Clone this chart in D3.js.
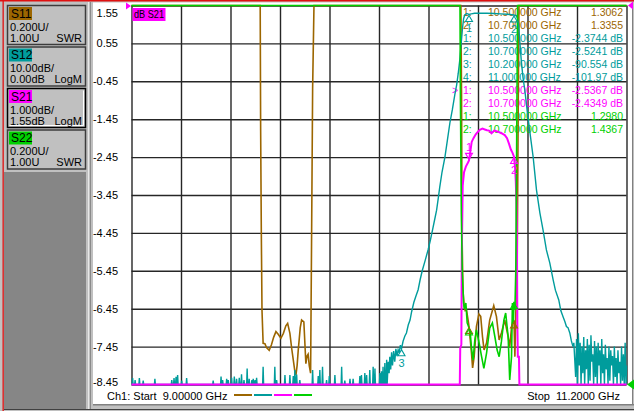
<!DOCTYPE html>
<html lang="en">
<head>
    <meta charset="UTF-8">
    <title>VNA sweep S11 S12 S21 S22</title>
    <script src="https://d3js.org/d3.v7.min.js"></script>
    <style>
        body { margin: 0; background: #c0c0c0; }
        svg { display: block; font-family: "Liberation Sans", Arial, sans-serif; }
        text { white-space: pre; }
    </style>
</head>
<body>
<svg width="634" height="411"></svg>
<script>
// sweep and graticule
var startGHz = 9.0, stopGHz = 11.2;
var gridGHz = [9.00, 9.22, 9.44, 9.66, 9.88, 10.10, 10.32, 10.54, 10.76, 10.98, 11.20];
var s21Ticks = [1.55, 0.55, -0.45, -1.45, -2.45, -3.45, -4.45, -5.45, -6.45, -7.45, -8.45];

// channel panels on the left
var paramNames = ["S11", "S12", "S21", "S22"];
var paramColors = ["#9c6600", "#009c9c", "#ff00ff", "#00d000"];
var scaleLabels = ["0.200U/", "10.00dB/", "1.000dB/", "0.200U/"];
var refLabels = ["1.00U", "0.00dB", "1.55dB", "1.00U"];
var formatLabels = ["SWR", "LogM", "LogM", "SWR"];

// marker table
var markerParam = [0, 0, 1, 1, 1, 1, 2, 2, 3, 3];
var markerNum = [1, 2, 1, 2, 3, 4, 1, 2, 1, 2];
var markerGHz = [10.5, 10.7, 10.5, 10.7, 10.2, 11.0, 10.5, 10.7, 10.5, 10.7];
var markerVal = [1.3062, 1.3355, -2.3744, -2.5241, -90.554, -101.97, -2.5367, -2.4349, 1.2980, 1.4367];

// S11 (SWR) - off scale (>3) except two bands
var s11Trace = [[9.0, 3.5], [9.572, 3.5], [9.574, 2.34], [9.577, 1.80], [9.580, 1.39], [9.585, 1.217],
    [9.593, 1.215], [9.600, 1.195], [9.612, 1.18], [9.622, 1.21], [9.632, 1.25], [9.642, 1.279],
    [9.652, 1.265], [9.664, 1.244], [9.675, 1.27], [9.686, 1.31], [9.694, 1.323], [9.704, 1.27],
    [9.712, 1.19], [9.719, 1.13], [9.726, 1.07], [9.731, 1.05], [9.736, 1.10], [9.741, 1.18],
    [9.750, 1.30], [9.756, 1.34], [9.766, 1.33], [9.775, 1.11], [9.780, 1.15], [9.785, 1.16],
    [9.790, 1.10], [9.796, 1.06], [9.800, 1.71], [9.805, 2.56], [9.811, 3.5],
    [10.464, 3.5], [10.467, 2.5], [10.469, 1.8], [10.473, 1.5], [10.478, 1.42], [10.483, 1.39],
    [10.489, 1.393], [10.496, 1.34], [10.500, 1.306], [10.511, 1.166], [10.516, 1.087], [10.523, 1.147],
    [10.533, 1.305], [10.544, 1.372], [10.552, 1.36], [10.560, 1.252], [10.567, 1.182], [10.578, 1.219],
    [10.592, 1.34], [10.610, 1.416], [10.622, 1.358], [10.634, 1.235], [10.644, 1.272], [10.659, 1.34],
    [10.674, 1.252], [10.681, 1.199], [10.689, 1.30], [10.696, 1.34], [10.700, 1.336], [10.704, 1.147],
    [10.708, 1.377], [10.714, 1.60], [10.719, 2.5], [10.722, 3.5], [11.2, 3.5]];

// S12 (dB) - noise floor spikes, then skirt / passband / skirt, then noisy tail
var s12Floor = -101;
var s12Spikes = [[9.005, -98.3], [9.016, -98.8], [9.035, -98.3], [9.052, -99], [9.104, -98.5],
    [9.179, -98.8], [9.189, -98.3], [9.198, -98.0], [9.205, -97.5], [9.223, -99], [9.245, -98.3],
    [9.363, -99], [9.398, -97.9], [9.405, -98.8], [9.423, -98.5], [9.430, -98.8], [9.445, -98.2],
    [9.457, -97.9], [9.467, -98.5], [9.479, -98.2], [9.489, -97.3], [9.500, -98.8], [9.514, -95.8],
    [9.523, -98.5], [9.535, -98.8], [9.541, -98.5], [9.549, -98.8], [9.556, -98.2], [9.585, -95.3],
    [9.637, -95.3], [9.645, -98.8], [9.682, -97.5], [9.704, -97.5], [9.719, -97.8], [9.726, -96.2],
    [9.734, -97.4], [9.748, -98.8], [9.805, -96.2], [9.830, -97.8], [9.837, -96.2], [9.849, -95.3],
    [9.867, -98.8], [9.879, -97.8], [9.904, -97.5], [9.934, -95.3], [9.948, -99], [9.971, -98.5],
    [9.985, -98.5], [10.015, -97.8], [10.022, -97.5], [10.037, -97], [10.045, -97.5], [10.059, -96.2],
    [10.074, -95.3], [10.082, -95.8], [10.104, -97], [10.111, -96.5], [10.118, -95.3], [10.126, -94.3],
    [10.134, -93.5]];
var s12Body = [[10.141, -94], [10.145, -97], [10.148, -92.7], [10.152, -96], [10.156, -91.5],
    [10.160, -95], [10.165, -91.2], [10.170, -94], [10.175, -90.6], [10.180, -92.5], [10.185, -90.8],
    [10.190, -91.6], [10.195, -89.6], [10.200, -90.55], [10.207, -88.6], [10.215, -87.2], [10.222, -86.4],
    [10.230, -84.3], [10.238, -83], [10.245, -80.8], [10.255, -78.3], [10.265, -76.5], [10.274, -75],
    [10.283, -72.3], [10.293, -69.8], [10.305, -67.3], [10.318, -64.5], [10.328, -62], [10.338, -59.2],
    [10.347, -56.6], [10.356, -54], [10.363, -51], [10.370, -47.9], [10.380, -44], [10.393, -40],
    [10.404, -35.5], [10.415, -31], [10.426, -27.5], [10.437, -23.5], [10.445, -21], [10.452, -18],
    [10.459, -14.4], [10.466, -9.5], [10.471, -6], [10.476, -3.5], [10.481, -2.5], [10.490, -2.1],
    [10.500, -2.37], [10.510, -2.2], [10.525, -2.05], [10.550, -2.0], [10.580, -2.05], [10.610, -2.1],
    [10.640, -2.2], [10.670, -2.3], [10.700, -2.52], [10.710, -2.7], [10.716, -3.4], [10.721, -5.5],
    [10.727, -10.5], [10.733, -15], [10.740, -19], [10.748, -22.3], [10.760, -28.5], [10.771, -33.6],
    [10.785, -39.9], [10.800, -48.7], [10.815, -54.7], [10.829, -59.2], [10.844, -64.5], [10.859, -67.9],
    [10.874, -72.4], [10.884, -75.1], [10.899, -77.7], [10.908, -80.5], [10.918, -82.1], [10.926, -83.4],
    [10.933, -84.7], [10.940, -85], [10.948, -86.4], [10.955, -88.5], [10.962, -90], [10.966, -89]];
var s12Tail = [[10.970, -93.5], [10.974, -98], [10.978, -88], [10.982, -100], [10.986, -86.5],
    [10.990, -95], [10.994, -89], [10.998, -101], [11.002, -90], [11.006, -97], [11.010, -87.5],
    [11.014, -100], [11.018, -91], [11.022, -96], [11.026, -88], [11.030, -101], [11.034, -89.5],
    [11.038, -99], [11.042, -87], [11.046, -94], [11.050, -92], [11.054, -101], [11.058, -88.5],
    [11.062, -98], [11.066, -90], [11.070, -100], [11.074, -89], [11.078, -95], [11.082, -91],
    [11.086, -101], [11.090, -88], [11.094, -97], [11.098, -92], [11.102, -100], [11.106, -89.5],
    [11.110, -96], [11.114, -93], [11.118, -101], [11.122, -90], [11.126, -99], [11.130, -91],
    [11.134, -95], [11.138, -92.5], [11.142, -101], [11.146, -90], [11.150, -98], [11.154, -93],
    [11.158, -100], [11.162, -91], [11.166, -97], [11.170, -94], [11.174, -101], [11.178, -90],
    [11.182, -99], [11.186, -92], [11.190, -100], [11.194, -89], [11.198, -101], [11.200, -95]];

// S21 (dB) - below scale outside the passband
var s21Trace = [[9.0, -9.5], [10.459, -9.5], [10.461, -7.5], [10.466, -7.4], [10.468, -5.0],
    [10.472, -3.2], [10.478, -2.85], [10.486, -2.7], [10.495, -2.6], [10.500, -2.54], [10.506, -2.3],
    [10.512, -2.05], [10.520, -1.95], [10.530, -1.85], [10.540, -1.78], [10.548, -1.73], [10.560, -1.70],
    [10.570, -1.72], [10.580, -1.74], [10.589, -1.75], [10.600, -1.82], [10.612, -1.75], [10.629, -1.78],
    [10.644, -1.82], [10.659, -1.87], [10.669, -1.95], [10.678, -2.1], [10.686, -2.25], [10.693, -2.33],
    [10.700, -2.44], [10.705, -2.75], [10.708, -3.1], [10.711, -3.7], [10.713, -4.6], [10.715, -6.9],
    [10.717, -7.72], [10.722, -7.72], [10.724, -9.5], [11.2, -9.5]];

// S22 (SWR)
var s22Trace = [[9.0, 3.5], [10.460, 3.5], [10.462, 2.5], [10.466, 1.9], [10.470, 1.6], [10.476, 1.43],
    [10.479, 1.40], [10.486, 1.43], [10.492, 1.325], [10.500, 1.30], [10.505, 1.28], [10.511, 1.193],
    [10.518, 1.129], [10.526, 1.235], [10.533, 1.288], [10.545, 1.219], [10.556, 1.147], [10.566, 1.085],
    [10.578, 1.166], [10.592, 1.298], [10.604, 1.325], [10.615, 1.252], [10.625, 1.182], [10.634, 1.147],
    [10.644, 1.226], [10.655, 1.34], [10.663, 1.377], [10.674, 1.252], [10.681, 1.024], [10.689, 1.147],
    [10.693, 1.43], [10.697, 1.32], [10.700, 1.437], [10.704, 1.393], [10.708, 1.604], [10.712, 2.3],
    [10.716, 3.5], [11.2, 3.5]];

var svg = d3.select("svg");
var plotTop = 5.5, plotBottom = 384.5, plotLeft = 131.5, plotRight = 626.5;
// plain hyphen for negative numbers, like the instrument screen
var hyphen = function(s) { return s.replace("\u2212", "-"); };

// window chrome
svg.append("rect").attr("x", 0).attr("y", 0).attr("width", 634).attr("height", 411).attr("fill", "#c0c0c0");
svg.append("rect").attr("x", 93).attr("y", 2.5).attr("width", 539).attr("height", 401.5).attr("fill", "#fff");
svg.append("rect").attr("x", 93).attr("y", 404).attr("width", 541).attr("height", 1.5).attr("fill", "#808080");
svg.append("line").attr("x1", 4).attr("x2", 634).attr("y1", 409.5).attr("y2", 409.5).attr("stroke", "#404040");
svg.append("line").attr("x1", 632.5).attr("x2", 632.5).attr("y1", 2).attr("y2", 405).attr("stroke", "#808080");
svg.append("line").attr("x1", 88.5).attr("x2", 88.5).attr("y1", 2).attr("y2", 409).attr("stroke", "#e8e8e8");
svg.append("line").attr("x1", 90.5).attr("x2", 90.5).attr("y1", 2).attr("y2", 409).attr("stroke", "#8a8a8a");
svg.append("rect").attr("x", 4).attr("y", 172).attr("width", 82).attr("height", 237).attr("fill", "#868686");
svg.append("rect").attr("x", 0).attr("y", 0).attr("width", 634).attr("height", 1.5).attr("fill", "#e01010");
svg.append("rect").attr("x", 2.5).attr("y", 0).attr("width", 1.3).attr("height", 411).attr("fill", "#e01010");

// channel panels
var panels = svg.append("g").selectAll("g").data(paramNames).enter().append("g")
    .attr("transform", function(d, i) { return "translate(7," + (5 + i * 41.5) + ")"; });
panels.append("rect").attr("x", 0.5).attr("y", 0.5).attr("width", 78).attr("height", 39)
    .attr("fill", "#c0c0c0").attr("stroke", function(d, i) { return i === 2 ? "#000" : "#3c3c3c"; })
    .attr("stroke-width", 1.5);
panels.filter(function(d, i) { return i === 2; }).append("path")
    .attr("d", "M76.5,2.5 V37.5 H2.5").attr("fill", "none").attr("stroke", "#fff");
panels.append("rect").attr("x", 2).attr("y", 2).attr("width", 23).attr("height", 13)
    .attr("fill", function(d, i) { return paramColors[i]; });
panels.append("text").attr("x", 4).attr("y", 8.5).attr("dy", "0.35em").attr("font-size", 12)
    .text(function(d) { return d; });
panels.append("text").attr("x", 3).attr("y", 21.8).attr("dy", "0.35em").attr("font-size", 11)
    .text(function(d, i) { return scaleLabels[i]; });
panels.append("text").attr("x", 3).attr("y", 32.8).attr("dy", "0.35em").attr("font-size", 11)
    .text(function(d, i) { return refLabels[i]; });
panels.append("text").attr("x", 75).attr("y", 32.8).attr("dy", "0.35em").attr("font-size", 11)
    .attr("text-anchor", "end").text(function(d, i) { return formatLabels[i]; });

// scales
var x = d3.scaleLinear().domain([startGHz, stopGHz]).range([plotLeft, plotRight]);
var yS21 = d3.scaleLinear().domain([-8.45, 1.55]).range([plotBottom, plotTop]).clamp(true);
var yS12 = d3.scaleLinear().domain([-100, 0]).range([plotBottom, plotTop]).clamp(true);
var ySwr = d3.scaleLinear().domain([1, 3]).range([plotBottom, plotTop]).clamp(true);
var yScales = [ySwr, yS12, yS21, ySwr];

// graticule
var grid = svg.append("g");
grid.append("g").attr("transform", "translate(" + plotLeft + ",0)")
    .call(d3.axisLeft(yS21).tickValues(s21Ticks).tickSize(-(plotRight - plotLeft)).tickFormat(""))
    .call(function(g) { g.select(".domain").remove(); });
grid.append("g").attr("transform", "translate(0," + plotBottom + ")")
    .call(d3.axisBottom(x).tickValues(gridGHz).tickSize(-(plotBottom - plotTop)).tickFormat(""))
    .call(function(g) { g.select(".domain").remove(); });
grid.selectAll(".tick line").attr("stroke", "#262626").attr("stroke-width", 1.4);

// y labels (S21 is the active trace)
svg.append("g").attr("transform", "translate(" + plotLeft + ",0)")
    .call(d3.axisLeft(yS21).tickValues(s21Ticks).tickSize(0).tickPadding(13.5)
        .tickFormat(function(d) { return d.toFixed(2); }))
    .call(function(g) { g.select(".domain").remove(); })
    .call(function(g) {
        g.selectAll("text").attr("font-size", 11).attr("fill", "#000")
            .attr("font-family", "\"Liberation Sans\", Arial, sans-serif")
            .attr("y", function(d) { return d === 1.55 ? 7.5 : (d === -8.45 ? -3 : 0); });
    });

// S21 title tag
svg.append("rect").attr("x", 132.5).attr("y", 8).attr("width", 33).attr("height", 13).attr("fill", "#ff00ff");
svg.append("text").attr("x", 134).attr("y", 14.5).attr("dy", "0.35em").attr("font-size", 11)
    .attr("textLength", 30).attr("lengthAdjust", "spacingAndGlyphs").text("dB S21");

// marker table
var fmtGHz = d3.format(".6f"), fmtVal = d3.format(".5g");
var table = svg.append("g").attr("font-size", 10.5);
markerParam.forEach(function(p, i) {
    var rowY = 12.5 + 13 * i;
    var c = paramColors[p];
    var unit = formatLabels[p] === "LogM" ? " dB" : "";
    if (p === 2 && markerNum[i] === 1) {
        table.append("text").attr("x", 452).attr("y", rowY).attr("dy", "0.35em").attr("fill", c).text(">");
    }
    table.append("text").attr("x", 463).attr("y", rowY).attr("dy", "0.35em").attr("fill", c).text(markerNum[i] + ":");
    table.append("text").attr("x", 488).attr("y", rowY).attr("dy", "0.35em").attr("fill", c)
        .text(fmtGHz(markerGHz[i]) + " GHz");
    table.append("text").attr("x", 623).attr("y", rowY).attr("dy", "0.35em").attr("fill", c)
        .attr("text-anchor", "end").text(hyphen(fmtVal(markerVal[i])) + unit);
});

// traces
var s12Trace = [[startGHz, s12Floor]];
s12Spikes.forEach(function(s) {
    s12Trace.push([s[0] - 0.0022, s12Floor], s, [s[0] + 0.0022, s12Floor]);
});
s12Trace = s12Trace.concat(s12Body, s12Tail);
var traces = [s11Trace, s12Trace, s21Trace, s22Trace];
var widths = [1.6, 1.4, 2, 1.6];

[0, 1, 2, 3].forEach(function(p) {
    var line = d3.line().x(function(d) { return x(d[0]); }).y(function(d) { return yScales[p](d[1]); });
    svg.append("path").datum(traces[p]).attr("d", line).attr("fill", "none")
        .attr("stroke", paramColors[p]).attr("stroke-width", widths[p]).attr("stroke-linejoin", "miter");
});

// marker symbols on the traces
markerParam.forEach(function(p, i) {
    var dom = yScales[p].domain();
    if (markerVal[i] < dom[0] || markerVal[i] > dom[1]) return;
    var cx = x(markerGHz[i]), cy = yScales[p](markerVal[i]);
    var down = (p === 2 && markerNum[i] === 1);
    var d = down
        ? "M" + cx + "," + (cy - 1) + "L" + (cx - 3.5) + "," + (cy - 7) + "L" + (cx + 3.5) + "," + (cy - 7) + "Z"
        : "M" + cx + "," + (cy + 1) + "L" + (cx - 3.5) + "," + (cy + 7) + "L" + (cx + 3.5) + "," + (cy + 7) + "Z";
    svg.append("path").attr("d", d).attr("fill", "none").attr("stroke", paramColors[p]).attr("stroke-width", 1.1);
    if (p === 1 || p === 2) {
        svg.append("text").attr("x", cx).attr("y", down ? cy - 13 : cy + 14).attr("dy", "0.35em")
            .attr("text-anchor", "middle").attr("font-size", 11).attr("fill", paramColors[p]).text(markerNum[i]);
    }
});

// reference position arrows
svg.append("path").attr("d", "M126," + (plotTop - 3) + "L131," + (plotTop + 0.5) + "L126," + (plotTop + 4) + "Z").attr("fill", "#ff00ff");
svg.append("path").attr("d", "M633," + (plotTop - 4) + "L628," + (plotTop) + "L633," + (plotTop + 4) + "Z").attr("fill", "#ff00ff");
svg.append("path").attr("d", "M634," + (plotBottom - 5) + "L627," + plotBottom + "L634," + (plotBottom + 5) + "Z").attr("fill", "#00d000");

// footer
svg.append("text").attr("x", 107).attr("y", 396).attr("dy", "0.35em").attr("font-size", 11)
    .text("Ch1: Start  " + d3.format(".6g")(startGHz) + " GHz");
svg.append("text").attr("x", 620).attr("y", 396).attr("dy", "0.35em").attr("font-size", 11)
    .attr("text-anchor", "end").text("Stop  " + d3.format(".6g")(stopGHz) + " GHz");
svg.append("g").selectAll("line").data(paramColors).enter().append("line")
    .attr("x1", function(d, i) { return 234 + i * 20; }).attr("x2", function(d, i) { return 252 + i * 20; })
    .attr("y1", 395).attr("y2", 395).attr("stroke", function(d) { return d; }).attr("stroke-width", 2);
</script>
</body>
</html>
